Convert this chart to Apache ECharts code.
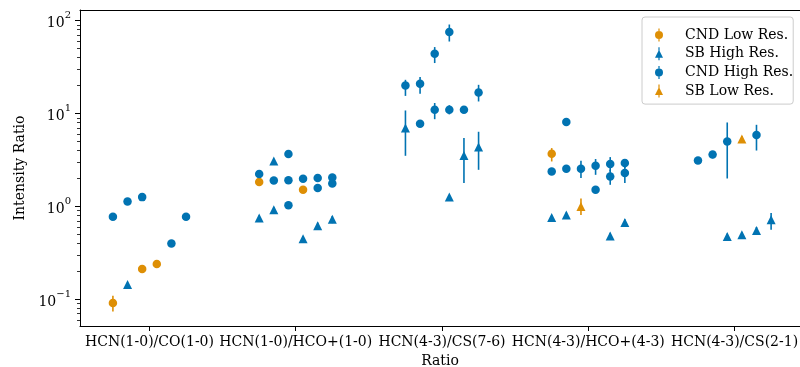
<!DOCTYPE html>
<html>
<head>
<meta charset="utf-8">
<script src="https://cdn.jsdelivr.net/npm/echarts@6/dist/echarts.min.js"></script>
<style>html,body{margin:0;padding:0;background:#fff}#c{width:800px;height:367px}</style>
</head>
<body>
<div id="c"></div>
<script>
// Categories (x tick labels)
const categories = ['HCN(1-0)/CO(1-0)', 'HCN(1-0)/HCO+(1-0)', 'HCN(4-3)/CS(7-6)', 'HCN(4-3)/HCO+(4-3)', 'HCN(4-3)/CS(2-1)'];
const yTickValues = [0.1, 1, 10, 100];

// Each point: [categoryIndex, slotIndex (0..5 within category), value, lowerBound, upperBound]
const cndLowRes = [
  [0, 0, 0.091, 0.074, 0.109],
  [0, 2, 0.212, 0.200, 0.225],
  [0, 3, 0.240, 0.228, 0.252],
  [1, 0, 1.83, 1.74, 1.92],
  [1, 3, 1.51, 1.43, 1.59],
  [3, 0, 3.69, 3.05, 4.25]
];
const sbHighRes = [
  [0, 1, 0.144, 0.137, 0.151],
  [1, 0, 0.75, 0.70, 0.80],
  [1, 1, 3.08, 2.90, 3.25],
  [1, 1, 0.92, 0.86, 0.98],
  [1, 3, 0.45, 0.42, 0.48],
  [1, 4, 0.62, 0.57, 0.67],
  [1, 5, 0.73, 0.66, 0.79],
  [2, 0, 6.98, 3.51, 10.8],
  [2, 3, 1.26, 1.20, 1.33],
  [2, 4, 3.54, 1.79, 5.45],
  [2, 5, 4.36, 2.48, 6.37],
  [3, 0, 0.76, 0.72, 0.80],
  [3, 1, 0.81, 0.76, 0.86],
  [3, 4, 0.48, 0.45, 0.52],
  [3, 5, 0.67, 0.62, 0.73],
  [4, 2, 0.475, 0.44, 0.51],
  [4, 3, 0.495, 0.46, 0.53],
  [4, 4, 0.55, 0.51, 0.60],
  [4, 5, 0.72, 0.56, 0.85]
];
const cndHighRes = [
  [0, 0, 0.775, 0.72, 0.83],
  [0, 1, 1.13, 1.05, 1.21],
  [0, 2, 1.26, 1.16, 1.36],
  [0, 4, 0.40, 0.37, 0.43],
  [0, 5, 0.775, 0.71, 0.84],
  [1, 0, 2.23, 2.10, 2.36],
  [1, 1, 1.90, 1.79, 2.01],
  [1, 2, 3.66, 3.40, 3.90],
  [1, 2, 1.92, 1.80, 2.04],
  [1, 2, 1.03, 0.96, 1.10],
  [1, 3, 1.99, 1.88, 2.10],
  [1, 4, 2.02, 1.90, 2.14],
  [1, 4, 1.58, 1.45, 1.70],
  [1, 5, 2.05, 1.92, 2.18],
  [1, 5, 1.77, 1.62, 1.92],
  [2, 0, 20.1, 15.5, 23.1],
  [2, 1, 20.9, 16.3, 24.7],
  [2, 1, 7.77, 7.40, 8.20],
  [2, 2, 44.0, 35.0, 52.0],
  [2, 2, 11.0, 8.7, 13.0],
  [2, 3, 75.4, 59.7, 91.0],
  [2, 3, 11.0, 9.8, 12.3],
  [2, 4, 11.0, 10.2, 11.8],
  [2, 5, 16.9, 13.5, 20.4],
  [3, 0, 2.38, 2.25, 2.50],
  [3, 1, 8.10, 7.70, 8.50],
  [3, 1, 2.55, 2.40, 2.70],
  [3, 2, 2.55, 2.02, 3.10],
  [3, 3, 2.74, 2.19, 3.24],
  [3, 3, 1.51, 1.43, 1.59],
  [3, 4, 2.86, 2.38, 3.40],
  [3, 4, 2.10, 1.71, 2.48],
  [3, 5, 2.93, 2.60, 3.25],
  [3, 5, 2.29, 1.79, 2.70],
  [4, 0, 3.13, 3.00, 3.26],
  [4, 1, 3.63, 3.30, 3.95],
  [4, 2, 5.01, 2.00, 8.02],
  [4, 4, 5.87, 4.00, 7.57]
];
const sbLowRes = [
  [3, 2, 1.00, 0.81, 1.22],
  [4, 3, 5.31, 4.90, 5.75]
];

const BLUE = '#0173B2';
const ORANGE = '#DE8F05';
const FONT = 'DejaVu Serif';

function xPos(p) { return p[0] + (p[1] - 2.5) * 0.1; }

const Y_MIN = 0.0516, Y_MAX = 130.4;
const minorTicks = [];
for (let k = -2; k <= 2; k++) {
  for (let m = 2; m <= 9; m++) {
    const v = m * Math.pow(10, k);
    if (v >= Y_MIN && v <= Y_MAX) minorTicks.push(v);
  }
}

const circleIcon = 'path://M0,6.5 A4,4 0 1,1 8,6.5 A4,4 0 1,1 0,6.5 Z M3.4,0 L4.6,0 L4.6,13 L3.4,13 Z';
const triIcon = 'path://M0,10.5 L4,2.5 L8,10.5 Z M3.4,0 L4.6,0 L4.6,13 L3.4,13 Z';

const seriesDefs = [
  { name: 'CND Low Res.', data: cndLowRes, color: ORANGE, symbol: 'circle', size: 8.5, icon: circleIcon },
  { name: 'SB High Res.', data: sbHighRes, color: BLUE, symbol: 'triangle', size: 9, icon: triIcon },
  { name: 'CND High Res.', data: cndHighRes, color: BLUE, symbol: 'circle', size: 8.5, icon: circleIcon },
  { name: 'SB Low Res.', data: sbLowRes, color: ORANGE, symbol: 'triangle', size: 9, icon: triIcon }
];

const series = [];
seriesDefs.forEach(function (d, i) {
  series.push({
    type: 'custom',
    name: d.name + ' err',
    z: 2 + i * 2,
    silent: true,
    renderItem: function (params, api) {
      const x = api.value(0);
      const p1 = api.coord([x, api.value(1)]);
      const p2 = api.coord([x, api.value(2)]);
      return {
        type: 'line',
        shape: { x1: p1[0], y1: p1[1], x2: p2[0], y2: p2[1] },
        style: { stroke: d.color, lineWidth: 1.6 }
      };
    },
    data: d.data.map(function (p) { return [xPos(p), p[3], p[4]]; })
  });
  series.push({
    type: 'scatter',
    name: d.name,
    z: 3 + i * 2,
    symbol: d.symbol,
    symbolSize: d.size,
    itemStyle: { color: d.color, opacity: 1 },
    data: d.data.map(function (p) { return [xPos(p), p[2]]; })
  });
});

function supLabel(v) {
  const e = Math.round(Math.log10(v));
  const es = e < 0 ? '\u2212' + (-e) : String(e);
  return '{b|10}{e|' + es + '}';
}

const chart = echarts.init(document.getElementById('c'), null, { renderer: 'canvas' });
chart.setOption({
  animation: false,
  backgroundColor: '#fff',
  textStyle: { fontFamily: FONT },
  grid: { left: 80, right: 0, top: 10, bottom: 41, containLabel: false, outerBoundsMode: 'none' },
  legend: {
    orient: 'vertical',
    left: 642,
    top: 17,
    padding: [11, 0, 6, 13],
    itemGap: 4.7,
    itemWidth: 8,
    itemHeight: 13,
    borderColor: '#cccccc',
    borderWidth: 1,
    borderRadius: 3,
    backgroundColor: 'rgba(255,255,255,0.8)',
    textStyle: { fontFamily: FONT, fontSize: 14, color: '#000', lineHeight: 14, padding: [0, 0, 0, 17] },
    data: seriesDefs.map(function (d) { return { name: d.name, icon: d.icon, itemStyle: { color: d.color } }; })
  },
  xAxis: [{
    type: 'value',
    min: -0.475,
    max: 4.4475,
    name: 'Ratio',
    nameLocation: 'middle',
    nameGap: 27,
    nameTextStyle: { fontFamily: FONT, fontSize: 14, color: '#000' },
    axisLine: { show: true, onZero: false, lineStyle: { color: '#000', width: 1 } },
    axisTick: { show: true, length: 5, customValues: [0, 1, 2, 3, 4], lineStyle: { color: '#000', width: 1 } },
    axisLabel: {
      customValues: [0, 1, 2, 3, 4],
      margin: 9,
      fontFamily: FONT, fontSize: 14, color: '#000',
      formatter: function (v) { return categories[Math.round(v)]; }
    },
    splitLine: { show: false }
  }, {
    type: 'value',
    position: 'top',
    min: -0.475,
    max: 4.4475,
    axisLine: { show: true, onZero: false, lineStyle: { color: '#000', width: 1 } },
    axisTick: { show: false },
    axisLabel: { show: false },
    splitLine: { show: false }
  }],
  yAxis: [{
    type: 'log',
    logBase: 10,
    min: Y_MIN,
    max: Y_MAX,
    name: 'Intensity Ratio',
    nameLocation: 'middle',
    nameGap: 52,
    nameRotate: 90,
    nameTextStyle: { fontFamily: FONT, fontSize: 14, color: '#000' },
    axisLine: { show: true, onZero: false, lineStyle: { color: '#000', width: 1 } },
    axisTick: { show: true, length: 5, customValues: yTickValues, lineStyle: { color: '#000', width: 1 } },
    axisLabel: {
      customValues: yTickValues,
      margin: 9,
      color: '#000',
      formatter: supLabel,
      rich: {
        b: { fontFamily: FONT, fontSize: 14, color: '#000', lineHeight: 20, verticalAlign: 'bottom' },
        e: { fontFamily: FONT, fontSize: 10, color: '#000', lineHeight: 10, verticalAlign: 'top' }
      }
    },
    splitLine: { show: false }
  }, {
    type: 'log',
    logBase: 10,
    min: Y_MIN,
    max: Y_MAX,
    position: 'left',
    axisLine: { show: false, onZero: false },
    axisTick: { show: true, length: 3, customValues: minorTicks, lineStyle: { color: '#000', width: 0.8 } },
    axisLabel: { show: false },
    splitLine: { show: false }
  }],
  series: series
});
</script>
</body>
</html>
